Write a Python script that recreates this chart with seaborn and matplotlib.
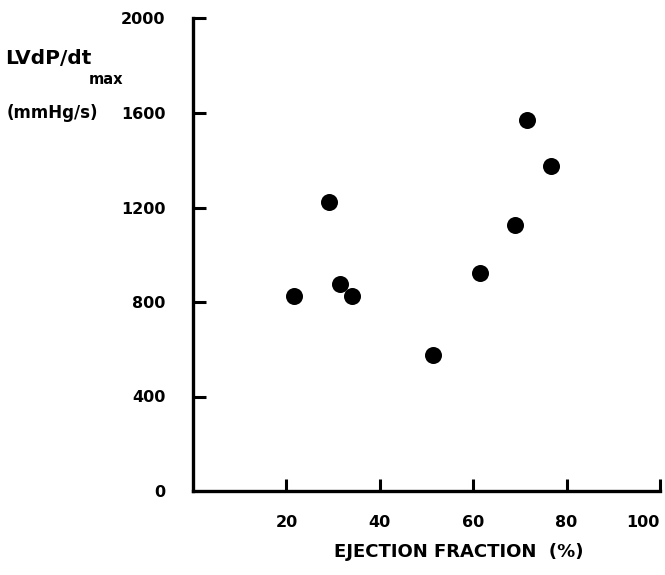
import matplotlib
matplotlib.use("Agg")
import matplotlib.pyplot as plt
import seaborn as sns
import pandas as pd

# Ejection fraction (%) vs. peak LV dP/dt (mmHg/s)
ejection_fraction = [71.6, 76.6, 29.1, 69.0, 61.4, 31.5, 21.6, 34.0, 51.3]
lv_dpdt_max = [1570, 1375, 1224, 1124, 924, 875, 827, 825, 575]
x_ticks = [20, 40, 60, 80, 100]
y_ticks = [0, 400, 800, 1200, 1600, 2000]

df = pd.DataFrame({"ef": ejection_fraction, "dpdt": lv_dpdt_max})

sns.set_style("white")
plt.rcParams["font.family"] = ["DejaVu Sans"]
plt.rcParams["text.color"] = "black"

W, H = 665, 575
fig = plt.figure(figsize=(W / 100, H / 100), dpi=100)
ax = fig.add_axes([193 / W, 1 - 491 / H, (660 - 193) / W, (491 - 18.5) / H])

sns.scatterplot(data=df, x="ef", y="dpdt", ax=ax, s=150, color="black",
                edgecolor="black", linewidth=0, legend=False, clip_on=False)

ax.set_xlim(0, 100)
ax.set_ylim(0, 2000)
ax.set_xlabel("")
ax.set_ylabel("")

for side in ("top", "right"):
    ax.spines[side].set_visible(False)
for side in ("left", "bottom"):
    ax.spines[side].set_linewidth(2.4)
    ax.spines[side].set_color("black")

ax.set_xticks(x_ticks)
ax.set_xticklabels([str(t) for t in x_ticks], fontsize=11.5, fontweight="bold")
ax.set_yticks(y_ticks)
ax.set_yticklabels([str(t) for t in y_ticks], fontsize=11.5, fontweight="bold")
ax.tick_params(axis="x", bottom=True, direction="in", length=9, width=2.2,
               pad=17, colors="black")
ax.tick_params(axis="y", left=True, direction="in", length=9, width=2.2,
               pad=20, colors="black")
# no tick mark at the origin on the y axis
ax.yaxis.get_major_ticks()[0].tick1line.set_visible(False)
# keep the last x label inside the figure
ax.get_xticklabels()[-1].set_horizontalalignment("right")

# y-axis title in three pieces
fig.text(5 / W, 1 - 58 / H, "LVdP/dt", fontsize=14.5, fontweight="bold",
         ha="left", va="center")
fig.text(89 / W, 1 - 80 / H, "max", fontsize=10.5, fontweight="bold",
         ha="left", va="center")
fig.text(7 / W, 1 - 113 / H, "(mmHg/s)", fontsize=12, fontweight="bold",
         ha="left", va="center")

# x-axis title
fig.text(459 / W, 1 - 552 / H, "EJECTION FRACTION  (%)", fontsize=13,
         fontweight="bold", ha="center", va="center")

fig.savefig("out.png", dpi=100)
